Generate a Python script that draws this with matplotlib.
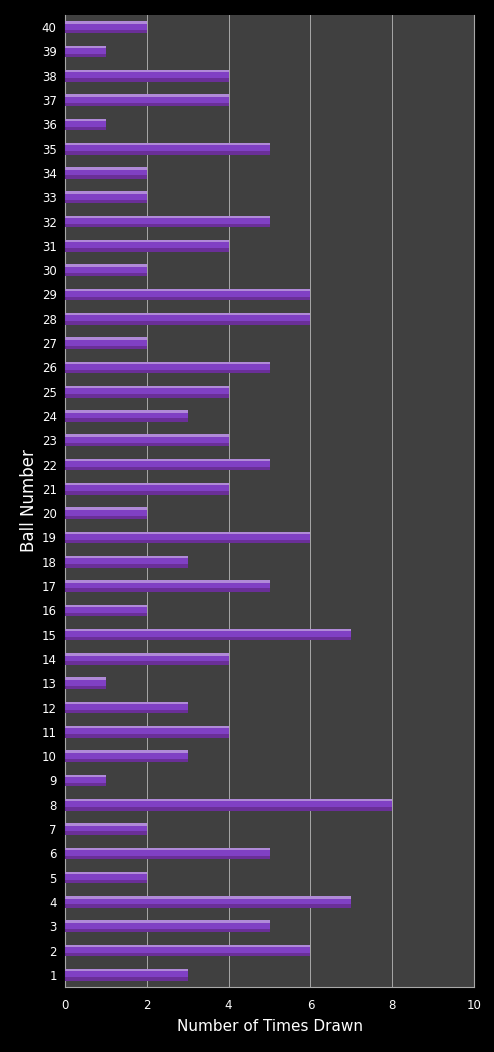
import matplotlib
matplotlib.use("Agg")
import matplotlib.pyplot as plt
import numpy as np

balls = list(range(1, 41))
times_drawn = [3, 6, 5, 7, 2, 5, 2, 8, 1, 3,
               4, 3, 1, 4, 7, 2, 5, 3, 6, 2,
               4, 5, 4, 3, 4, 5, 2, 6, 6, 2,
               4, 5, 2, 2, 5, 1, 4, 4, 1, 2]
x_ticks = [0, 2, 4, 6, 8, 10]

fig = plt.figure(figsize=(4.94, 10.52), dpi=100, facecolor="black")
ax = fig.add_axes([0.1316, 0.0618, 0.8279, 0.9239])
ax.set_facecolor("#404040")

h = 0.48
y = np.array(balls)
vals = np.array(times_drawn)
# bevelled look: dark base, bright body, light top stripe
ax.barh(y, vals, height=h, color="#6a2f98", zorder=3)
ax.barh(y + 0.05, vals, height=h - 0.18, color="#8040c4", zorder=4)
ax.barh(y + h / 2 - 0.05, vals, height=0.1, color="#b08ad8", zorder=5)

ax.set_xlim(0, 10)
ax.set_ylim(0.5, 40.5)
ax.set_xticks(x_ticks)
ax.set_yticks(balls)
ax.tick_params(colors="white", labelsize=8.5, length=0, pad=6)
ax.tick_params(axis="x", pad=9)
ax.xaxis.grid(True, color="#a8a8a8", linewidth=0.7, zorder=1)
ax.set_axisbelow(True)
ax.spines["top"].set_visible(False)
for s in ["right", "left", "bottom"]:
    ax.spines[s].set_color("#a8a8a8")
    ax.spines[s].set_linewidth(0.8)

ax.set_xlabel("Number of Times Drawn", color="white", fontsize=11, labelpad=5)
ax.set_ylabel("Ball Number", color="white", fontsize=12, labelpad=3)

fig.savefig("out.png", dpi=100, facecolor="black")
